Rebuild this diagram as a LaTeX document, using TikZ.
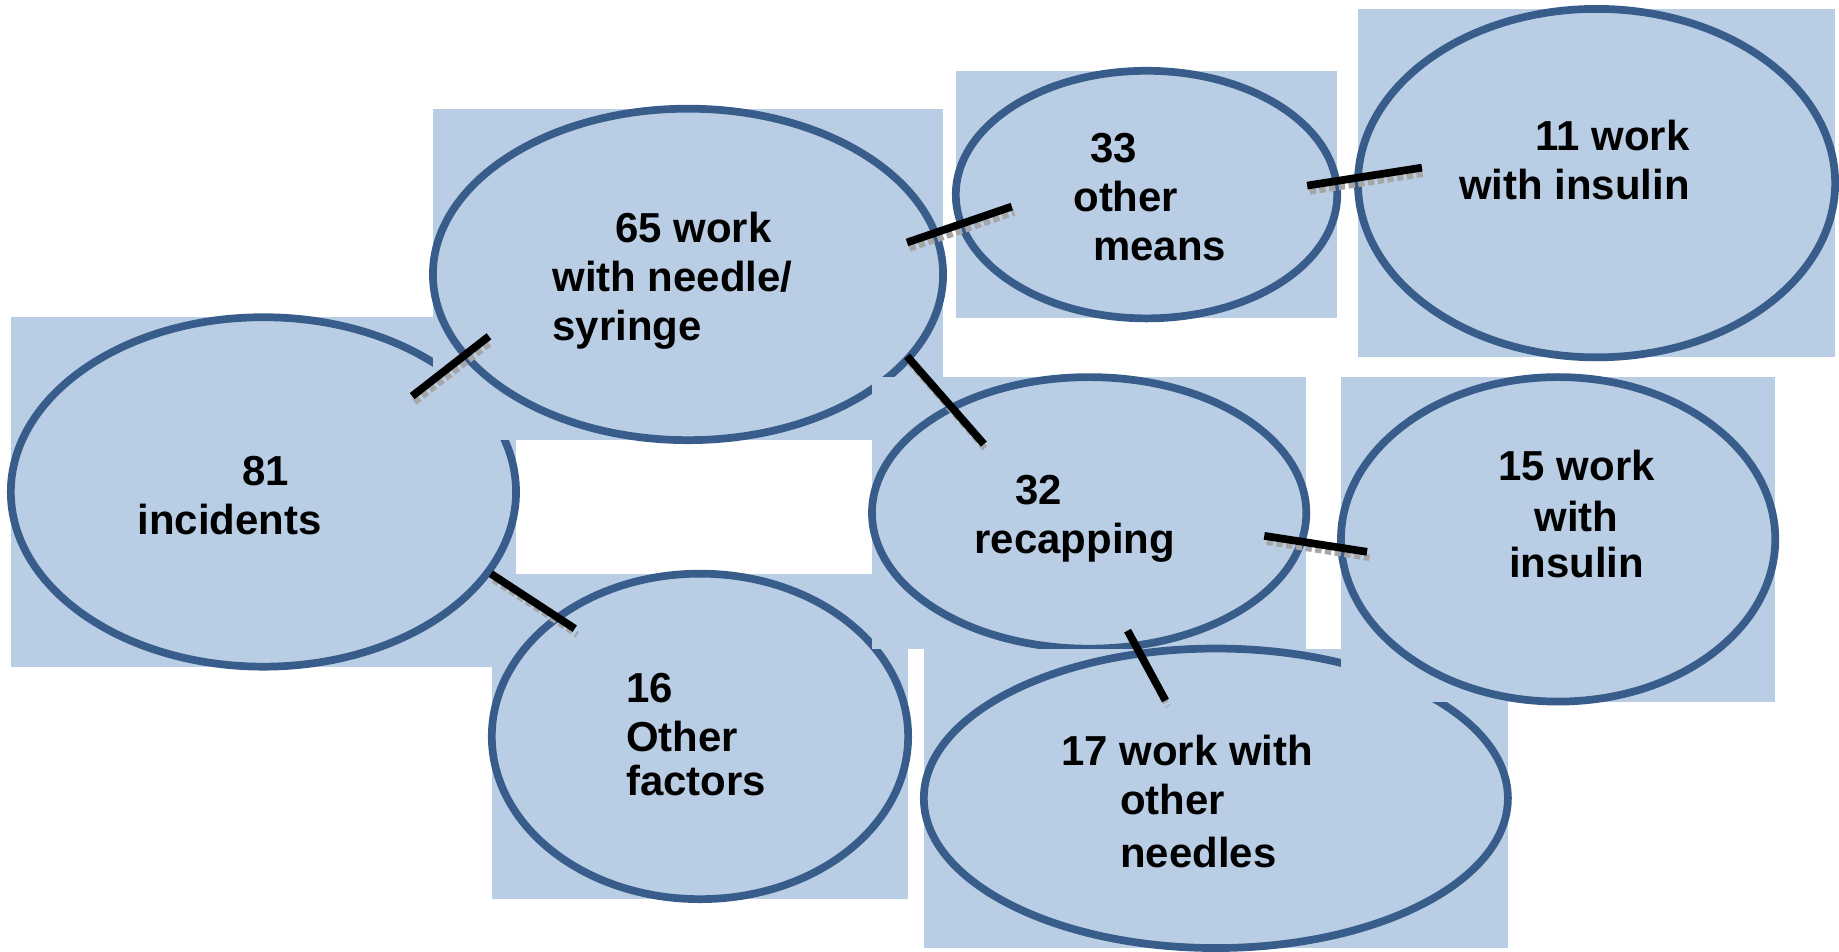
\documentclass[tikz,border=0pt]{standalone}
\usepackage{fontspec}
\setmainfont{Liberation Sans}
\usetikzlibrary{shapes.geometric}
\definecolor{boxblue}{RGB}{185,205,229}
\definecolor{rimblue}{RGB}{56,93,138}

\begin{document}
\begin{tikzpicture}[x=0.01cm, y=-0.01cm,
    backbox/.style={rectangle, fill=boxblue, inner sep=0pt, outer sep=0pt},
    bubble/.style={ellipse, draw=rimblue, fill=boxblue, line width=2.2pt, inner sep=0pt},
    txt/.style={font=\fontsize{11.95}{13.95}\selectfont\bfseries, inner sep=0pt},
    link/.style={line width=2.2pt, black},
    linkshadow/.style={line width=1.8pt, gray!70, densely dotted,
      transform canvas={shift={(0.025cm,-0.06cm)}}}]
        \fill[white] (0,0) rectangle (1839,950);
        %bubbles
        \node[backbox, minimum width=5.06cm, minimum height=3.5cm] (r81) at (264,493) {};
        \node[bubble, minimum width=5.06cm, minimum height=3.5cm] (n81) at (264,493) {};
        \node[backbox, minimum width=5.11cm, minimum height=3.32cm] (r65) at (689.5,275) {};
        \node[bubble, minimum width=5.11cm, minimum height=3.32cm] (n65) at (689.5,275) {};
        \node[backbox, minimum width=3.82cm, minimum height=2.48cm] (r33) at (1149,195) {};
        \node[bubble, minimum width=3.82cm, minimum height=2.48cm] (n33) at (1149,195) {};
        \node[backbox, minimum width=4.78cm, minimum height=3.49cm] (r11) at (1600,183.5) {};
        \node[bubble, minimum width=4.78cm, minimum height=3.49cm] (n11) at (1600,183.5) {};
        \node[backbox, minimum width=4.17cm, minimum height=3.26cm] (r16) at (701.5,738) {};
        \node[bubble, minimum width=4.17cm, minimum height=3.26cm] (n16) at (701.5,738) {};
        \node[backbox, minimum width=4.35cm, minimum height=2.72cm] (r32) at (1091.5,514) {};
        \node[bubble, minimum width=4.35cm, minimum height=2.72cm] (n32) at (1091.5,514) {};
        \node[backbox, minimum width=5.85cm, minimum height=3cm] (r17) at (1218.5,800) {};
        \node[bubble, minimum width=5.85cm, minimum height=3cm] (n17) at (1218.5,800) {};
        \node[backbox, minimum width=4.35cm, minimum height=3.25cm] (r15) at (1561.5,540.5) {};
        \node[bubble, minimum width=4.35cm, minimum height=3.25cm] (n15) at (1561.5,540.5) {};
        %labels (base = last line)
        \node[txt, anchor=base west, align=left] (t81) at (137,536) {\hspace*{1.05cm}81\\incidents};
        \node[txt, anchor=base west, align=left] (t65) at (553,341) {\hspace*{0.63cm}65 work\\with needle/\\syringe};
        \node[txt, anchor=base west, align=left] (t33) at (1075,261) {\hspace*{0.17cm}33\\other\\\hspace*{0.2cm}means};
        \node[txt, anchor=base east, align=right] (t11) at (1694,200) {11 work\\with insulin};
        \node[txt, anchor=base west, align=left] (t32) at (976,555) {\hspace*{0.41cm}32\\recapping};
        \node[txt, anchor=base, align=center] (t15) at (1580,579) {15 work\\[0.6pt]with\\[-0.9pt]insulin};
        \node[txt, anchor=base west, align=left] (t16) at (627,797) {16\\Other\\[-1.4pt]factors};
        \node[txt, anchor=base west, align=left] (t17) at (1063,869) {17 work with\\\hspace*{0.59cm}other\\[1.1pt]\hspace*{0.59cm}needles};
        %link ends
        \coordinate (a1) at (413,397);  \coordinate (b1) at (490,337);
        \coordinate (a2) at (492,575);  \coordinate (b2) at (576,630);
        \coordinate (a3) at (909,243);  \coordinate (b3) at (1014,207);
        \coordinate (a4) at (1310,186); \coordinate (b4) at (1425,168);
        \coordinate (a5) at (909,357);  \coordinate (b5) at (986,445);
        \coordinate (a6) at (1267,537); \coordinate (b6) at (1370,553);
        \coordinate (a7) at (1130,632); \coordinate (b7) at (1168,702);
        %links
        \foreach \k in {1,...,7} {
          \draw[linkshadow] (a\k) -- (b\k);
          \draw[link] (a\k) -- (b\k);
        }
      \end{tikzpicture}
\end{document}
